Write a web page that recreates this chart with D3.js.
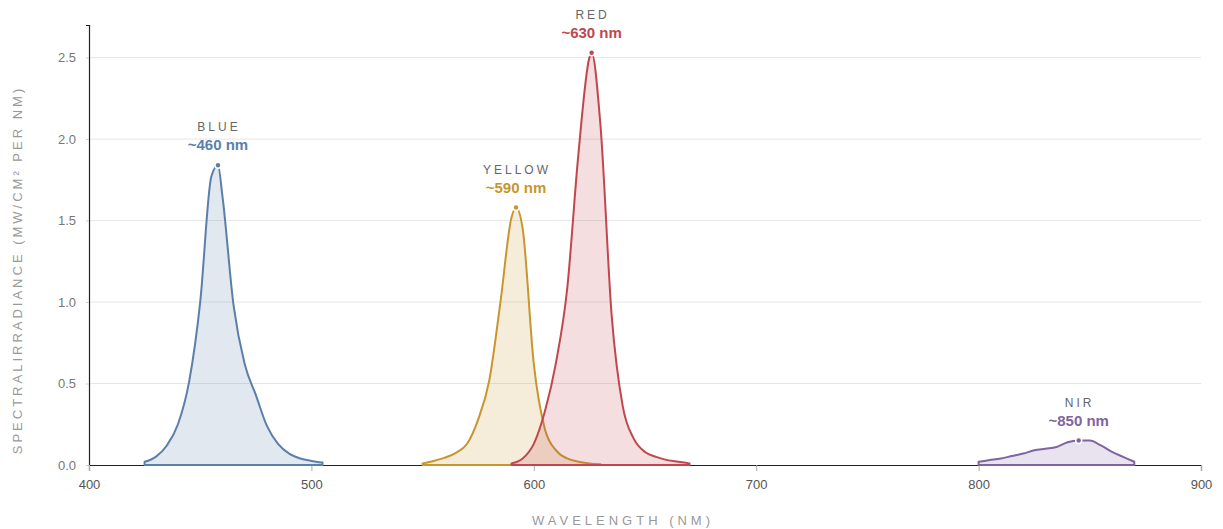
<!DOCTYPE html>
<html><head><meta charset="utf-8">
<script src="https://cdn.jsdelivr.net/npm/d3@7"></script>
<style>
body{margin:0;background:#fff;}
svg{display:block;font-family:"Liberation Sans",Arial,sans-serif;}
</style></head><body>
<svg id="chart" width="1223" height="529"></svg>
<script>
// ---- data ----
const blueNm   = [425,430,435,440,445,450,455,458,460,465,470,475,480,485,490,495,500,505];
const blueVal  = [0.02,0.05,0.12,0.25,0.51,1.0,1.77,1.84,1.65,0.98,0.62,0.43,0.24,0.13,0.07,0.04,0.025,0.015];
const yellowNm  = [550,555,560,565,570,575,580,585,590,592,595,600,605,610,615,620,625,630];
const yellowVal = [0.01,0.025,0.045,0.075,0.13,0.28,0.52,1.0,1.52,1.58,1.45,0.62,0.22,0.09,0.04,0.02,0.01,0.005];
const redNm  = [590,595,600,605,610,615,620,625,626,630,635,640,645,650,655,660,665,670];
const redVal = [0.01,0.04,0.13,0.33,0.63,1.08,1.9,2.5,2.53,2.08,0.92,0.36,0.16,0.08,0.05,0.03,0.02,0.01];
const nirNm  = [800,805,810,815,820,825,830,835,840,845,850,855,860,865,870];
const nirVal = [0.02,0.03,0.04,0.055,0.07,0.09,0.10,0.11,0.14,0.15,0.15,0.12,0.08,0.05,0.02];
const seriesNames  = ["BLUE","YELLOW","RED","NIR"];
const seriesLabels = ["~460 nm","~590 nm","~630 nm","~850 nm"];
const xTicks = [400,500,600,700,800,900];
const yTicks = [0,0.5,1.0,1.5,2.0,2.5];
const xTitle = "WAVELENGTH (NM)";
const yTitle = "SPECTRALIRRADIANCE (MW/CM² PER NM)";

// ---- layout ----
const colors = ["#5b7fab","#c8962e","#c0474d","#7f65a0"];
const W = 1223, H = 529;
const m = {l:89, r:22, t:25, b:64};
const svg = d3.select("#chart");
const x = d3.scaleLinear().domain([400,900]).range([m.l, W-m.r]);
const y = d3.scaleLinear().domain([0,2.7]).range([H-m.b, m.t]);

// grid
svg.append("g").selectAll("line").data(yTicks.filter(d=>d>0)).join("line")
  .attr("x1",m.l).attr("x2",W-m.r).attr("y1",d=>y(d)).attr("y2",d=>y(d))
  .attr("stroke","#e6e6e6").attr("stroke-width",1);

// y axis
const ya = svg.append("g").attr("transform",`translate(${m.l},0)`)
  .call(d3.axisLeft(y).tickValues(yTicks).tickFormat(d3.format(".1f")).tickSize(3).tickPadding(10));
ya.select(".domain").attr("stroke","#222").attr("stroke-width",1.2);
ya.selectAll(".tick line").attr("stroke","#ccc");
ya.selectAll("text").attr("fill","#777").attr("font-size",13).attr("font-family","Liberation Sans, Arial, sans-serif");

// x axis
const xa = svg.append("g").attr("transform",`translate(0,${H-m.b})`)
  .call(d3.axisBottom(x).tickValues(xTicks).tickSize(6).tickPadding(9));
xa.select(".domain").attr("stroke","#222").attr("stroke-width",1.2);
xa.selectAll(".tick line").attr("stroke","#aaa");
xa.selectAll("text").attr("fill","#555").attr("font-size",13).attr("font-family","Liberation Sans, Arial, sans-serif");

// titles
svg.append("text").attr("x",623).attr("y",525).attr("text-anchor","middle")
  .attr("fill","#999").attr("font-size",13).attr("letter-spacing","4px").text(xTitle);
svg.append("text").attr("transform",`translate(22,${270}) rotate(-90)`).attr("text-anchor","middle")
  .attr("fill","#999").attr("font-size",13).attr("letter-spacing","3px").text(yTitle);

// series
const seriesData = [[blueNm,blueVal],[yellowNm,yellowVal],[redNm,redVal],[nirNm,nirVal]];
const area = d3.area().x(d=>x(d[0])).y0(y(0)).y1(d=>y(d[1])).curve(d3.curveMonotoneX);
seriesData.forEach(([nm,val],i)=>{
  const pts = nm.map((n,j)=>[n,val[j]]);
  svg.append("path").datum(pts).attr("d",area)
    .attr("fill",colors[i]).attr("fill-opacity",0.18)
    .attr("stroke",colors[i]).attr("stroke-width",2).attr("stroke-linejoin","round");
});
seriesData.forEach(([nm,val],i)=>{
  const k = d3.maxIndex(val);
  const px = x(nm[k]), py = y(val[k]);
  svg.append("circle").attr("cx",px).attr("cy",py).attr("r",3)
    .attr("fill",colors[i]).attr("stroke","#fff").attr("stroke-width",1.5);
  svg.append("text").attr("x",px+1).attr("y",py-34).attr("text-anchor","middle")
    .attr("fill","#666").attr("font-size",12).attr("letter-spacing","3px").text(seriesNames[i]);
  svg.append("text").attr("x",px).attr("y",py-15).attr("text-anchor","middle")
    .attr("fill",colors[i]).attr("font-size",15).attr("font-weight","bold").text(seriesLabels[i]);
});
</script></body></html>
